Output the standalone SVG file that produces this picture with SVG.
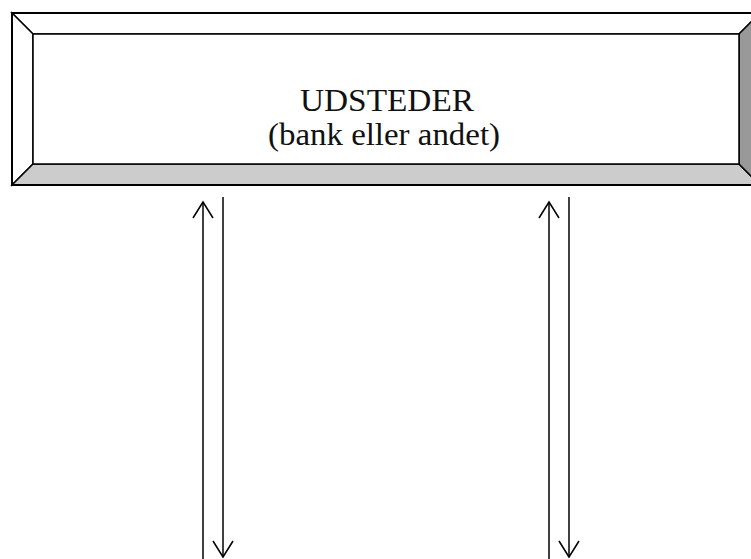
<svg xmlns="http://www.w3.org/2000/svg" width="751" height="559" viewBox="0 0 751 559">
  <style>
    .edge { stroke: #000; stroke-width: 1.5; fill: none; }
    .bevel { stroke: #000; stroke-width: 1.5; stroke-linejoin: miter; }
    .label { font-family: "Liberation Serif", "Times New Roman", serif; font-size: 31px; fill: #111; text-anchor: middle; }
  </style>
  <defs>
    <!-- open V arrowhead, drawn pointing along +x -->
    <marker id="head" viewBox="0 0 20 22" refX="18" refY="11" markerWidth="20" markerHeight="22" markerUnits="userSpaceOnUse" orient="auto">
      <path d="M2,1 L18,11 L2,21" fill="none" stroke="#000" stroke-width="1.5"/>
    </marker>
  </defs>

  <rect width="751" height="559" fill="#fff"/>

  <!-- issuer box with bevelled frame -->
  <g id="udsteder">
    <polygon class="bevel" points="12,13 760,13 739,34 33,34" fill="#fff"/>
    <polygon class="bevel" points="12,13 33,34 33,164 12,185" fill="#fff"/>
    <polygon class="bevel" points="12,185 33,164 739,164 760,185" fill="#ccc"/>
    <polygon class="bevel" points="760,13 760,185 739,164 739,34" fill="#999"/>
    <rect x="33" y="34" width="706" height="130" fill="#fff" stroke="#000" stroke-width="1.5"/>
    <rect x="12" y="13" width="748" height="172" fill="none" stroke="#000" stroke-width="2"/>
    <text class="label" x="387" y="111" textLength="174" lengthAdjust="spacingAndGlyphs">UDSTEDER</text>
    <text class="label" x="384" y="145" textLength="232" lengthAdjust="spacingAndGlyphs">(bank eller andet)</text>
  </g>

  <!-- paired connectors -->
  <g id="connectors">
    <line class="edge" x1="203" y1="559" x2="203" y2="202" marker-end="url(#head)"/>
    <line class="edge" x1="223" y1="197" x2="223" y2="557" marker-end="url(#head)"/>
    <line class="edge" x1="549" y1="559" x2="549" y2="202" marker-end="url(#head)"/>
    <line class="edge" x1="569" y1="197" x2="569" y2="557" marker-end="url(#head)"/>
  </g>
</svg>
